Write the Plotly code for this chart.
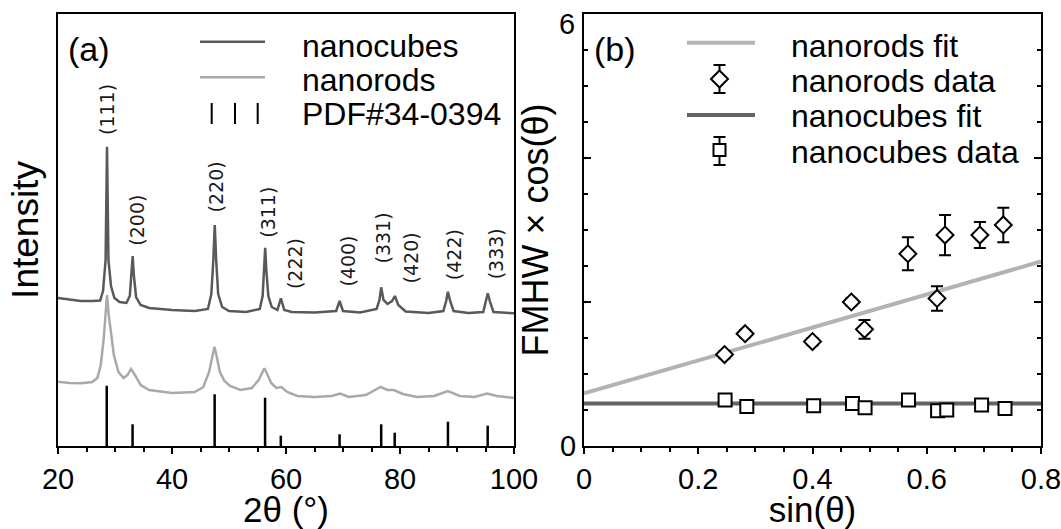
import plotly.graph_objects as go

# ---------------- data: panel (a) XRD ----------------
cubes_2theta = [20, 22, 24, 26, 27.4, 27.9, 28.35, 28.6, 28.85, 29.3, 29.9, 30.8, 32.0, 32.6, 32.9,
                33.1, 33.3, 33.7, 34.5, 36, 40, 44, 46.3, 46.9, 47.25, 47.5, 47.75, 48.1, 48.8, 50,
                53, 55.4, 55.9, 56.15, 56.35, 56.55, 56.9, 57.5, 58.5, 59.1, 59.7, 61, 65, 68.8,
                69.4, 70.0, 73, 75.9, 76.4, 76.7, 77.1, 77.8, 78.6, 79.1, 79.7, 81, 85, 87.6, 88.1,
                88.4, 88.8, 89.4, 92, 94.6, 95.1, 95.4, 95.8, 96.4, 100]
cubes_int = [148, 146.5, 145, 145, 145.5, 155, 186, 299.3, 186, 160, 148, 144, 143, 150, 171,
             190, 171, 149, 141, 138, 136, 135, 137, 152, 186, 221, 186, 152, 139, 135,
             134, 137, 150, 176, 198.3, 176, 150, 139, 136, 147.7, 136, 134, 133.5, 135,
             145, 135, 133.5, 137, 146, 158.7, 146, 142, 145, 150, 141, 134.5, 133, 135, 145,
             154.3, 145, 135, 133, 134, 144, 152.7, 144, 134, 132.7]

rods_2theta = [20, 22, 24, 26, 26.9, 27.5, 28.0, 28.35, 28.6, 28.9, 29.3, 29.8, 30.6, 31.5, 32.2,
               32.8, 33.5, 34.5, 36, 40, 44, 45.5, 46.5, 47.0, 47.45, 47.9, 48.4, 49.2, 50.2, 52,
               54, 55.2, 55.8, 56.2, 56.7, 57.4, 58.3, 59.2, 60.2, 62, 65, 68, 69.5, 71, 74, 76.6,
               77.8, 78.9, 80.5, 83, 86, 88.4, 90.5, 93, 95.3, 97, 100]
rods_int = [64.3, 63, 62.7, 64, 68, 81, 106, 131, 151, 131, 111, 91, 74, 68, 71,
            77, 71, 61, 56, 53, 54, 59, 74, 88, 99.3, 88, 74, 65, 60, 56,
            58, 66, 74, 77.7, 72, 63, 58, 59, 54, 50, 49, 50, 52.5, 49, 51, 59,
            56, 56, 52, 49, 50, 55, 50, 49, 52.5, 50, 48]

pdf_2theta = [28.55, 33.08, 47.48, 56.33, 59.09, 69.40, 76.70, 79.07, 88.41, 95.38]
pdf_int = [60.3, 21.7, 51.7, 48.3, 10.3, 11.7, 21.7, 13.3, 24.3, 20.3]
hkl_labels = ["(111)", "(200)", "(220)", "(311)", "(222)", "(400)", "(331)", "(420)", "(422)", "(333)"]

# label placement (layout, not data)
hkl_label_x = [28.6, 33.8, 47.8, 56.8, 61.6, 70.8, 77.1, 82.0, 89.5, 96.9]
hkl_label_y = [336, 226, 259, 234, 182, 185, 208, 188, 191, 192]

# ---------------- data: panel (b) Williamson-Hall ----------------
rods_sin = [0.246, 0.282, 0.40, 0.468, 0.491, 0.567, 0.618, 0.632, 0.693, 0.734]
rods_fw = [1.27, 1.56, 1.45, 2.00, 1.62, 2.67, 2.05, 2.93, 2.93, 3.07]
rods_err = [0.05, 0.05, 0.05, 0.05, 0.13, 0.23, 0.17, 0.28, 0.18, 0.24]

cubes_sin = [0.247, 0.285, 0.402, 0.470, 0.492, 0.568, 0.619, 0.635, 0.696, 0.737]
cubes_fw = [0.64, 0.55, 0.56, 0.59, 0.53, 0.64, 0.49, 0.50, 0.57, 0.52]
cubes_err = [0.04, 0.04, 0.04, 0.04, 0.04, 0.04, 0.04, 0.04, 0.04, 0.04]

rods_fit_intercept, rods_fit_slope = 0.73, 2.29
cubes_fit_intercept, cubes_fit_slope = 0.59, 0.0
fit_x = [0.0, 0.8]

y2_ticks = [0, 2, 4, 6]
y2_ticktext = ["0", "", "", ""]   # the "6" is placed just below the top edge, as in the reference

# ---------------- styling ----------------
W, H = 1061, 529
DARK = "#595959"
LIGHT = "#a9a9a9"
FIT_LIGHT = "#b3b3b3"
FIT_DARK = "#636363"
SANS = "Liberation Sans"


def fx(px):
    return px / W


def fy(py):
    return 1 - py / H


fig = go.Figure()

# panel (a)
fig.add_trace(go.Scatter(x=cubes_2theta, y=cubes_int, mode="lines",
                         line=dict(color=DARK, width=2.5), xaxis="x", yaxis="y",
                         name="nanocubes", showlegend=False))
fig.add_trace(go.Scatter(x=rods_2theta, y=rods_int, mode="lines",
                         line=dict(color=LIGHT, width=2.5), xaxis="x", yaxis="y",
                         name="nanorods", showlegend=False))
stick_x, stick_y = [], []
for p, h in zip(pdf_2theta, pdf_int):
    stick_x += [p, p, None]
    stick_y += [0, h, None]
fig.add_trace(go.Scatter(x=stick_x, y=stick_y, mode="lines",
                         line=dict(color="black", width=2.5), xaxis="x", yaxis="y",
                         name="PDF#34-0394", showlegend=False))

# panel (b)
rods_fit_y = [rods_fit_intercept + rods_fit_slope * v for v in fit_x]
cubes_fit_y = [cubes_fit_intercept + cubes_fit_slope * v for v in fit_x]
fig.add_trace(go.Scatter(x=fit_x, y=rods_fit_y, mode="lines",
                         line=dict(color=FIT_LIGHT, width=4), xaxis="x2", yaxis="y2",
                         name="nanorods fit", showlegend=False))
fig.add_trace(go.Scatter(x=fit_x, y=cubes_fit_y, mode="lines",
                         line=dict(color=FIT_DARK, width=4), xaxis="x2", yaxis="y2",
                         name="nanocubes fit", showlegend=False))
fig.add_trace(go.Scatter(x=rods_sin, y=rods_fw, mode="markers",
                         marker=dict(symbol="diamond", size=13, color="white",
                                     line=dict(color="black", width=2)),
                         error_y=dict(type="data", array=rods_err, color="black",
                                      thickness=2, width=6),
                         xaxis="x2", yaxis="y2", name="nanorods data", showlegend=False))
fig.add_trace(go.Scatter(x=cubes_sin, y=cubes_fw, mode="markers",
                         marker=dict(symbol="square", size=13, color="white",
                                     line=dict(color="black", width=2)),
                         error_y=dict(type="data", array=cubes_err, color="black",
                                      thickness=2, width=6),
                         xaxis="x2", yaxis="y2", name="nanocubes data", showlegend=False))

annotations = []
for lab, lx, ly in zip(hkl_labels, hkl_label_x, hkl_label_y):
    annotations.append(dict(x=lx, y=ly, xref="x", yref="y", text=lab, textangle=-90,
                            showarrow=False, xanchor="center", yanchor="middle",
                            font=dict(family="DejaVu Sans", size=19, color="#1a1a1a")))

# top tick label of panel (b), nudged below the figure edge
annotations.append(dict(x=fx(577), y=fy(24), xref="paper", yref="paper", text="6",
                        showarrow=False, xanchor="right", yanchor="middle",
                        font=dict(family=SANS, size=29, color="black")))

shapes = []
# legend (a)
shapes.append(dict(type="line", xref="paper", yref="paper", x0=fx(200), x1=fx(265),
                   y0=fy(41.7), y1=fy(41.7), line=dict(color=DARK, width=2.5)))
shapes.append(dict(type="line", xref="paper", yref="paper", x0=fx(200), x1=fx(265),
                   y0=fy(77.3), y1=fy(77.3), line=dict(color=LIGHT, width=2.5)))
for sx in (211.7, 235, 257.7):
    shapes.append(dict(type="line", xref="paper", yref="paper", x0=fx(sx), x1=fx(sx),
                       y0=fy(103), y1=fy(124), line=dict(color="black", width=2)))
for txt, cy in (("nanocubes", 46), ("nanorods", 80), ("PDF#34-0394", 114)):
    annotations.append(dict(x=fx(300), y=fy(cy), xref="paper", yref="paper", text=txt,
                            showarrow=False, xanchor="left", yanchor="middle",
                            font=dict(family=SANS, size=32, color="black")))
annotations.append(dict(x=fx(66), y=fy(49), xref="paper", yref="paper", text="(a)",
                        showarrow=False, xanchor="left", yanchor="middle",
                        font=dict(family=SANS, size=34, color="black")))

# legend (b)
shapes.append(dict(type="line", xref="paper", yref="paper", x0=fx(687), x1=fx(755),
                   y0=fy(42.7), y1=fy(42.7), line=dict(color=FIT_LIGHT, width=4)))
shapes.append(dict(type="line", xref="paper", yref="paper", x0=fx(687), x1=fx(755),
                   y0=fy(115), y1=fy(115), line=dict(color=FIT_DARK, width=4)))
lx = 719.5
for cy, top, bot in ((79, 65, 93), (150, 137, 165)):
    shapes.append(dict(type="line", xref="paper", yref="paper", x0=fx(lx), x1=fx(lx),
                       y0=fy(top), y1=fy(bot), line=dict(color="black", width=2)))
    for yy in (top, bot):
        shapes.append(dict(type="line", xref="paper", yref="paper", x0=fx(lx - 6),
                           x1=fx(lx + 6), y0=fy(yy), y1=fy(yy),
                           line=dict(color="black", width=2)))
d = 8.5
shapes.append(dict(type="path", xref="paper", yref="paper",
                   path=(f"M {fx(lx - d)} {fy(79)} L {fx(lx)} {fy(79 - d)} "
                         f"L {fx(lx + d)} {fy(79)} L {fx(lx)} {fy(79 + d)} Z"),
                   fillcolor="white", line=dict(color="black", width=2)))
s = 6
shapes.append(dict(type="rect", xref="paper", yref="paper", x0=fx(lx - s), x1=fx(lx + s),
                   y0=fy(150 - s), y1=fy(150 + s), fillcolor="white",
                   line=dict(color="black", width=2)))
for txt, cy in (("nanorods fit", 46), ("nanorods data", 81), ("nanocubes fit", 116),
                ("nanocubes data", 152)):
    annotations.append(dict(x=fx(789), y=fy(cy), xref="paper", yref="paper", text=txt,
                            showarrow=False, xanchor="left", yanchor="middle",
                            font=dict(family=SANS, size=32, color="black")))
annotations.append(dict(x=fx(592), y=fy(49), xref="paper", yref="paper", text="(b)",
                        showarrow=False, xanchor="left", yanchor="middle",
                        font=dict(family=SANS, size=34, color="black")))

axis_common = dict(showline=True, linecolor="black", linewidth=2, showgrid=False,
                   zeroline=False, tickcolor="black", tickwidth=2, automargin=False,
                   ticklabeloverflow="allow",
                   tickfont=dict(family=SANS, size=29, color="black"))

fig.update_layout(
    width=W, height=H, margin=dict(l=0, r=0, t=0, b=0, pad=0, autoexpand=False),
    paper_bgcolor="white", plot_bgcolor="white", showlegend=False,
    xaxis=dict(domain=[fx(58), fx(514)], range=[20, 100], anchor="y",
               tickvals=[20, 40, 60, 80, 100], ticks="outside", ticklen=6, mirror=True,
               minor=dict(dtick=5, ticks="outside", ticklen=4, tickcolor="black", tickwidth=1.5),
               title=dict(text="2θ (°)", font=dict(family=SANS, size=35, color="black"),
                          standoff=1),
               **axis_common),
    yaxis=dict(domain=[fy(446), fy(14)], range=[0, 432], anchor="x",
               showticklabels=False, ticks="", mirror=True,
               title=dict(text="Intensity", font=dict(family=SANS, size=37, color="black"),
                          standoff=6),
               **axis_common),
    xaxis2=dict(domain=[fx(584), fx(1041)], range=[0, 0.8], anchor="y2",
                tickvals=[0, 0.2, 0.4, 0.6, 0.8], ticktext=["0", "0.2", "0.4", "0.6", "0.8"],
                ticks="outside", ticklen=6, mirror=True,
                minor=dict(dtick=0.05, ticks="outside", ticklen=4, tickcolor="black",
                           tickwidth=1.5),
                title=dict(text="sin(θ)", font=dict(family=SANS, size=35, color="black"),
                           standoff=1),
                **axis_common),
    yaxis2=dict(domain=[fy(446), fy(14)], range=[0, 6], anchor="x2",
                tickvals=y2_ticks, ticktext=y2_ticktext,
                ticks="inside", ticklen=7, mirror="allticks",
                minor=dict(dtick=0.5, ticks="inside", ticklen=4, tickcolor="black",
                           tickwidth=1.5),
                title=dict(text="FMHW × cos(θ)", font=dict(family=SANS, size=36, color="black"),
                           standoff=0),
                **axis_common),
    annotations=annotations,
    shapes=shapes,
)

fig.write_html(
    "out.html",
    config={"displayModeBar": False},
    post_script=("document.documentElement.style.margin='0px';"
                 "document.documentElement.style.overflow='hidden';"
                 "document.body.style.margin='0px';document.body.style.padding='0px';"
                 "document.body.style.overflow='hidden';"),
)
